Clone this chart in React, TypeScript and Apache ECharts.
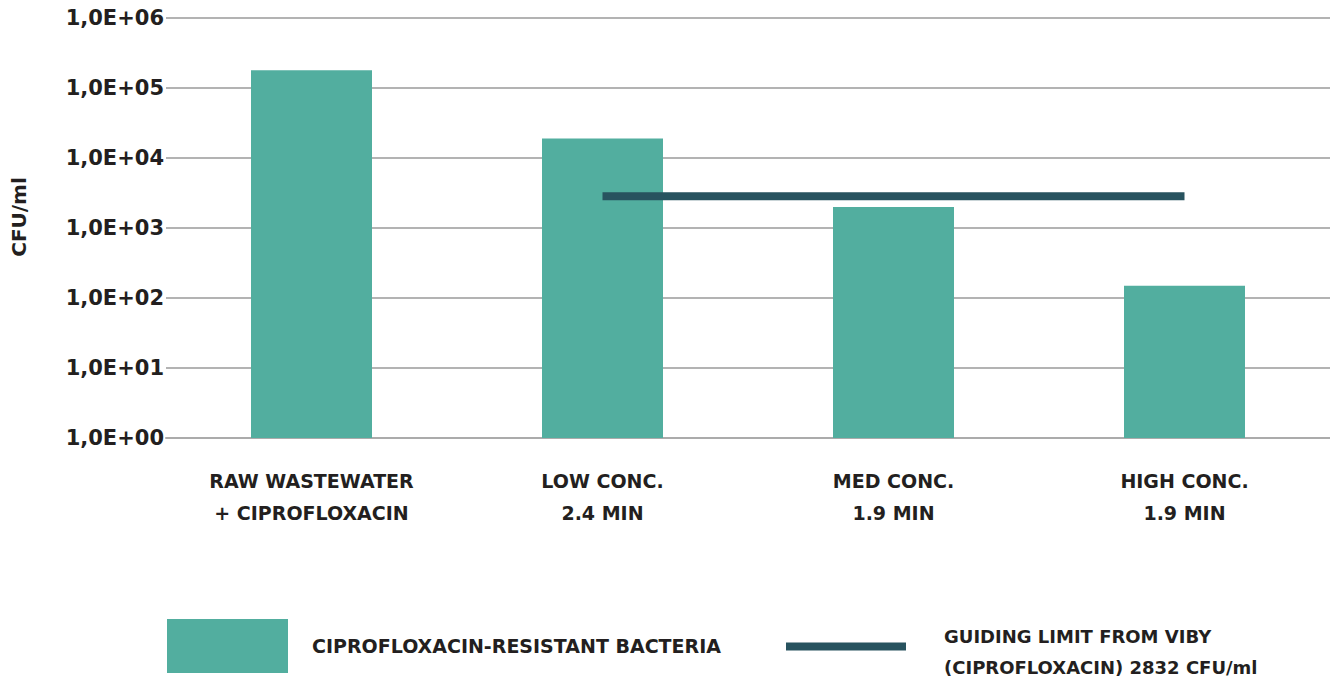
import React, { useEffect, useRef } from "react";
import * as echarts from "echarts";

const categories = [
  "RAW WASTEWATER\n+ CIPROFLOXACIN",
  "LOW CONC.\n2.4 MIN",
  "MED CONC.\n1.9 MIN",
  "HIGH CONC.\n1.9 MIN",
];
const bacteria = [180000, 19000, 2000, 150];
const guidingLimit: (number | string)[] = ["-", 2832, 2832, 2832];
const barName = "CIPROFLOXACIN-RESISTANT BACTERIA";
const lineName = "GUIDING LIMIT FROM VIBY\n(CIPROFLOXACIN) 2832 CFU/ml";

const FONT = "DejaVu Sans";
const TEXT = "#231f20";

export default function App() {
  const ref = useRef<HTMLDivElement>(null);
  useEffect(() => {
    document.body.style.margin = "0";
    const chart = echarts.init(ref.current!, null, { renderer: "svg" });
    chart.setOption({
      animation: false,
      grid: { left: 166, right: 0, top: 18, height: 420 },
      xAxis: {
        type: "category",
        data: categories,
        axisTick: { show: false },
        axisLine: { show: true, lineStyle: { color: "#ababab", width: 2 } },
        axisLabel: {
          margin: 27,
          fontFamily: FONT,
          fontWeight: "bold",
          fontSize: 19,
          lineHeight: 32,
          color: TEXT,
          interval: 0,
        },
      },
      yAxis: {
        type: "log",
        logBase: 10,
        min: 1,
        max: 1000000,
        name: "CFU/ml",
        nameLocation: "middle",
        nameRotate: 90,
        nameGap: 137,
        nameTextStyle: {
          fontFamily: FONT,
          fontWeight: "bold",
          fontSize: 20,
          color: TEXT,
          padding: [0, 0, 0, 22],
        },
        axisLine: { show: false },
        axisTick: { show: false },
        splitLine: { lineStyle: { color: "#b3b3b3", width: 2 } },
        axisLabel: {
          margin: 2,
          fontFamily: FONT,
          fontWeight: "bold",
          fontSize: 21,
          color: TEXT,
          formatter: (v: number) => {
            const e = Math.round(Math.log10(v));
            return "1,0E+" + String(e).padStart(2, "0");
          },
        },
      },
      legend: [
        {
          data: [barName],
          left: 162,
          top: 614,
          itemWidth: 121,
          itemHeight: 54,
          itemGap: 0,
          icon: "rect",
          textStyle: {
            fontFamily: FONT,
            fontWeight: "bold",
            fontSize: 19,
            color: TEXT,
            padding: [0, 0, 0, 19],
          },
          selectedMode: false,
        },
        {
          data: [{ name: lineName }],
          left: 781,
          top: 616,
          itemWidth: 120,
          itemHeight: 19,
          icon: "path://M0,0H120V8H0Z M0,19L120,19",
          itemStyle: { color: "#28535f", borderWidth: 0 },
          textStyle: {
            fontFamily: FONT,
            fontWeight: "bold",
            fontSize: 18,
            lineHeight: 31,
            color: TEXT,
            padding: [0, 0, 0, 33],
          },
          selectedMode: false,
        },
      ],
      series: [
        {
          name: barName,
          type: "bar",
          data: bacteria,
          barWidth: 121,
          itemStyle: { color: "#52ae9f" },
        },
        {
          name: lineName,
          type: "line",
          data: guidingLimit,
          symbol: "none",
          lineStyle: { color: "#28535f", width: 8, cap: "butt" },
          itemStyle: { color: "#28535f" },
        },
      ],
    });
    return () => chart.dispose();
  }, []);
  return <div ref={ref} style={{ width: 1330, height: 680 }} />;
}
